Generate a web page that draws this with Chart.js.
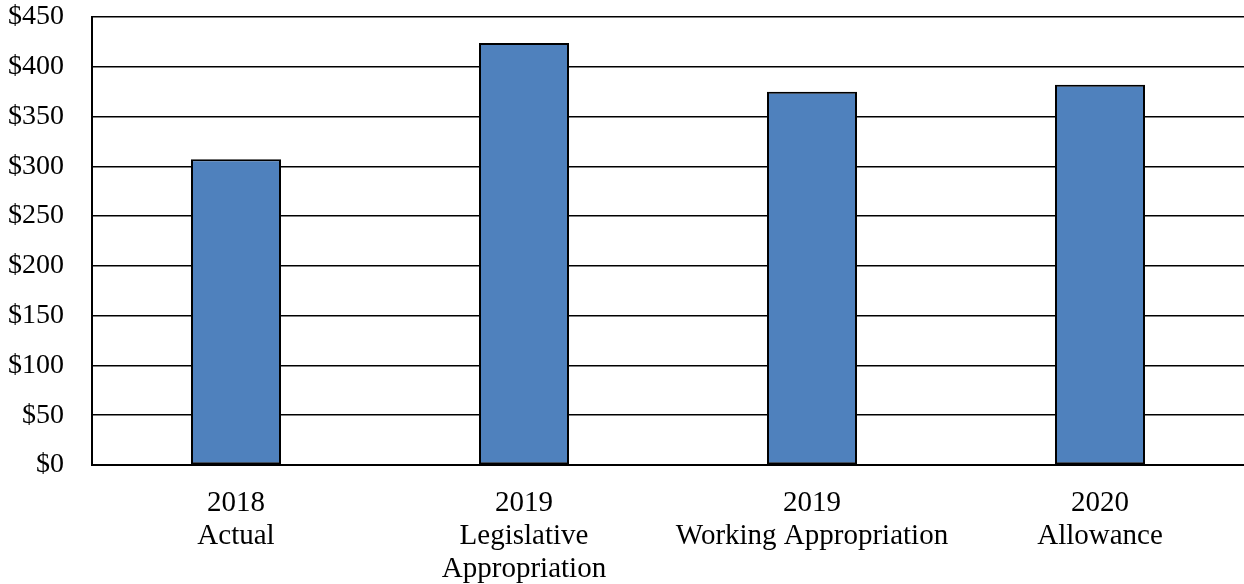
<!DOCTYPE html>
<html>
<head>
<meta charset="utf-8">
<script src="https://cdn.jsdelivr.net/npm/chart.js@4.4.1/dist/chart.umd.min.js"></script>
<style>
html,body{margin:0;padding:0;background:#fff;}
#wrap{width:1244px;height:584px;position:relative;}
</style>
</head>
<body>
<div id="wrap"><canvas id="c" width="1244" height="584"></canvas></div>
<script>
const categories = [["2018","Actual"],["2019","Legislative","Appropriation"],["2019","Working Appropriation"],["2020","Allowance"]];
const values = [307, 424, 375, 382];
const yMin = 0, yMax = 450, yStep = 50;

const XFONT = {family: "'Liberation Serif','Times New Roman',serif", size: 29, lineHeight: 1.14};
const YFONT = {family: "'Liberation Serif','Times New Roman',serif", size: 28};

new Chart(document.getElementById('c'), {
  type: 'bar',
  data: {
    labels: categories,
    datasets: [{
      data: values,
      backgroundColor: '#4F81BD',
      borderColor: '#000000',
      borderWidth: 2,
      borderSkipped: false,
      categoryPercentage: 1,
      barPercentage: 0.3125
    }]
  },
  options: {
    responsive: false,
    animation: false,
    devicePixelRatio: 1,
    layout: {padding: {top: 17, right: 0, left: 0, bottom: 0}},
    plugins: {legend: {display: false}, tooltip: {enabled: false}},
    scales: {
      x: {
        grid: {display: false, drawTicks: false},
        border: {display: true, color: '#000', width: 2},
        ticks: {color: '#000', font: XFONT, padding: 22, maxRotation: 0, autoSkip: false},
        afterFit: (s) => { s.height = 119; s.paddingLeft = 0; s.paddingRight = 0; }
      },
      y: {
        min: yMin, max: yMax,
        grid: {color: '#000', lineWidth: 1.6, drawTicks: false},
        border: {display: true, color: '#000', width: 2},
        ticks: {stepSize: yStep, color: '#000', font: YFONT, padding: 28,
          callback: (v) => '$' + v},
        afterFit: (s) => { s.width = 92; s.paddingTop = 0; s.paddingBottom = 0; }
      }
    }
  }
});
</script>
</body>
</html>
